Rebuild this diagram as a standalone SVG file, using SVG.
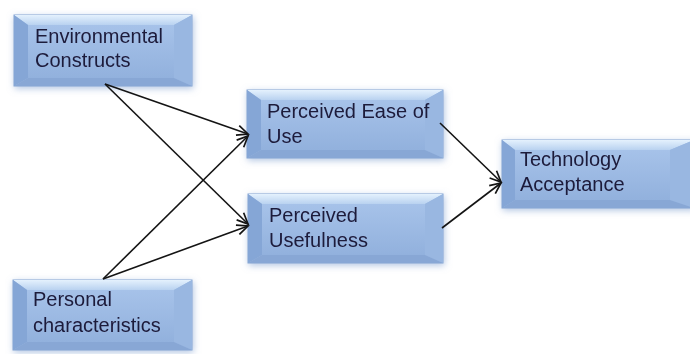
<svg xmlns="http://www.w3.org/2000/svg" width="690" height="354" viewBox="0 0 690 354">
<defs>
  <linearGradient id="gFace" x1="0" y1="0" x2="0" y2="1">
    <stop offset="0" stop-color="#a6c2e9"/>
    <stop offset="1" stop-color="#92b1dd"/>
  </linearGradient>
  <linearGradient id="gTop" x1="0" y1="0" x2="0" y2="1">
    <stop offset="0" stop-color="#e4f1fd"/>
    <stop offset="1" stop-color="#b9d2f0"/>
  </linearGradient>
  <filter id="glow" x="-10%" y="-25%" width="120%" height="150%">
    <feGaussianBlur in="SourceAlpha" stdDeviation="3.5" result="b"/>
    <feOffset in="b" dx="1" dy="2" result="o"/>
    <feFlood flood-color="#7f9fd0" flood-opacity="0.6"/>
    <feComposite in2="o" operator="in" result="s"/>
    <feMerge><feMergeNode in="s"/><feMergeNode in="SourceGraphic"/></feMerge>
  </filter>
  <marker id="arr" markerUnits="userSpaceOnUse" markerWidth="14" markerHeight="12" refX="12" refY="6" orient="auto" viewBox="0 0 14 12">
    <path d="M1,1 L12,6 L1,11" fill="none" stroke="#141414" stroke-width="1.7"/>
  </marker>
  <style>
    .outer { fill: #9dbbe4; stroke: #86a6d4; stroke-width: 1; }
    .face { fill: url(#gFace); }
    .top { fill: url(#gTop); }
    .left { fill: #85a6d6; }
    .right { fill: #99b7e1; }
    .bottom { fill: #88a7d5; }
    .lbl { font-family: "Liberation Sans", Arial, sans-serif; font-size: 20px; fill: #1d1a3a; }
    .conn { stroke: #141414; stroke-width: 1.6; fill: none; marker-end: url(#arr); }
  </style>
</defs>
<rect width="690" height="354" fill="#ffffff"/>

<g id="node-environmental" filter="url(#glow)">
  <rect class="outer" x="14" y="15" width="178" height="71"/>
  <polygon class="top" points="14,15 192,15 174,25 28,25"/>
  <polygon class="left" points="14,15 28,25 28,78 14,86"/>
  <polygon class="right" points="192,15 192,86 174,78 174,25"/>
  <polygon class="bottom" points="14,86 28,78 174,78 192,86"/>
  <rect class="face" x="28" y="25" width="146" height="53"/>
  <text class="lbl" x="35" y="43">Environmental</text>
  <text class="lbl" x="35" y="67">Constructs</text>
</g>

<g id="node-personal" filter="url(#glow)">
  <rect class="outer" x="13" y="280" width="179" height="70"/>
  <polygon class="top" points="13,280 192,280 174,290 27,290"/>
  <polygon class="left" points="13,280 27,290 27,342 13,350"/>
  <polygon class="right" points="192,280 192,350 174,342 174,290"/>
  <polygon class="bottom" points="13,350 27,342 174,342 192,350"/>
  <rect class="face" x="27" y="290" width="147" height="52"/>
  <text class="lbl" x="33" y="306">Personal</text>
  <text class="lbl" x="33" y="332">characteristics</text>
</g>

<g id="node-peu" filter="url(#glow)">
  <rect class="outer" x="247" y="90" width="196" height="68"/>
  <polygon class="top" points="247,90 443,90 425,100 261,100"/>
  <polygon class="left" points="247,90 261,100 261,150 247,158"/>
  <polygon class="right" points="443,90 443,158 425,150 425,100"/>
  <polygon class="bottom" points="247,158 261,150 425,150 443,158"/>
  <rect class="face" x="261" y="100" width="164" height="50"/>
  <text class="lbl" x="267" y="118">Perceived Ease of</text>
  <text class="lbl" x="267" y="143">Use</text>
</g>

<g id="node-pu" filter="url(#glow)">
  <rect class="outer" x="248" y="194" width="195" height="69"/>
  <polygon class="top" points="248,194 443,194 425,204 262,204"/>
  <polygon class="left" points="248,194 262,204 262,255 248,263"/>
  <polygon class="right" points="443,194 443,263 425,255 425,204"/>
  <polygon class="bottom" points="248,263 262,255 425,255 443,263"/>
  <rect class="face" x="262" y="204" width="163" height="51"/>
  <text class="lbl" x="269" y="222">Perceived</text>
  <text class="lbl" x="269" y="247">Usefulness</text>
</g>

<g id="node-ta" filter="url(#glow)">
  <rect class="outer" x="502" y="140" width="192" height="68"/>
  <polygon class="top" points="502,140 694,140 670,150 515,150"/>
  <polygon class="left" points="502,140 515,150 515,200 502,208"/>
  <polygon class="right" points="694,140 694,208 670,200 670,150"/>
  <polygon class="bottom" points="502,208 515,200 670,200 694,208"/>
  <rect class="face" x="515" y="150" width="155" height="50"/>
  <text class="lbl" x="520" y="166">Technology</text>
  <text class="lbl" x="520" y="191">Acceptance</text>
</g>

<g id="connectors">
  <line class="conn" x1="105" y1="84" x2="248" y2="134"/>
  <line class="conn" x1="105" y1="84" x2="248" y2="224"/>
  <line class="conn" x1="103" y1="279" x2="248" y2="136"/>
  <line class="conn" x1="103" y1="279" x2="248" y2="226"/>
  <line class="conn" x1="440" y1="123" x2="501" y2="182"/>
  <line class="conn" x1="442" y1="228" x2="501" y2="183"/>
</g>
</svg>
